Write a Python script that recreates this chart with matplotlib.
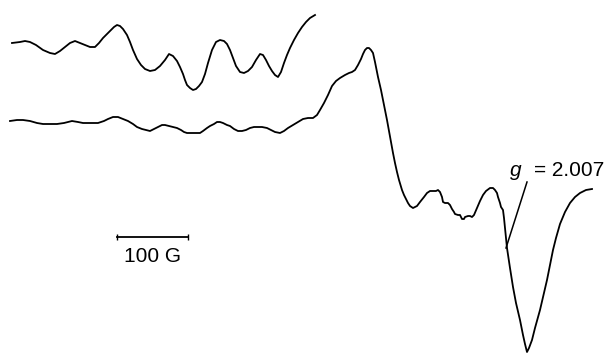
import matplotlib.pyplot as plt

# traces (x in field units, y in signal units, image-like frame)
upper_x = [12, 20, 25, 30, 36, 43, 50, 55, 60, 65,
           70, 75, 80, 85, 90, 95, 99, 103, 107, 110,
           114, 117, 120, 123, 127, 130, 133, 137, 141, 145,
           150, 155, 160, 165, 169, 173, 177, 180, 183, 185,
           187, 190, 193, 196, 199, 202, 205, 208, 212, 216,
           220, 224, 227, 230, 233, 236, 240, 244, 248, 252,
           256, 260, 263, 266, 269, 272, 275, 278, 281, 284,
           287, 290, 294, 298, 302, 306, 310, 315]
upper_y = [43, 42, 41, 42, 45, 50, 53, 54, 51, 47,
           43, 41, 43, 45, 47, 47, 43, 38, 34, 31,
           27, 25, 26, 29, 35, 42, 50, 59, 65, 69,
           71, 70, 66, 60, 54, 56, 61, 67, 74, 80,
           85, 88, 90, 89, 86, 82, 74, 63, 50, 42,
           40, 41, 44, 50, 58, 66, 72, 73, 71, 67,
           60, 54, 55, 60, 66, 71, 75, 77, 72, 63,
           55, 48, 40, 33, 27, 22, 18, 15]

lower_x = [10, 17, 23, 30, 37, 43, 50, 57, 64, 72,
           78, 83, 90, 98, 104, 108, 113, 118, 123, 128,
           133, 137, 142, 146, 150, 154, 158, 162, 165, 169,
           173, 177, 181, 184, 187, 190, 193, 196, 200, 203,
           207, 210, 214, 217, 220, 223, 227, 230, 234, 238,
           242, 246, 250, 254, 257, 262, 267, 271, 275, 280,
           284, 288, 293, 298, 303, 308, 313, 317, 320, 324,
           328, 332, 336, 340, 345, 349, 352, 355, 358, 361,
           363, 365, 367, 369, 371, 373, 375, 378, 381, 383,
           385, 387, 389, 391, 393, 395, 397, 399, 402, 404,
           406, 408, 410, 413, 417, 420, 424, 427, 430, 433,
           436, 438, 440, 442, 443, 445, 448, 450, 452, 454,
           455, 458, 460, 462, 464, 465, 468, 470, 472, 474,
           477, 480, 483, 486, 490, 493, 495, 497, 498, 500,
           501, 503, 504, 505, 506, 507, 510, 513, 516, 520,
           523, 525, 527, 529, 532, 535, 538, 540, 543, 547,
           550, 553, 556, 560, 565, 570, 575, 580, 586, 592]
lower_y = [121, 120, 120, 121, 123, 124, 124, 124, 123, 121,
           122, 123, 123, 123, 121, 119, 117, 117, 119, 121,
           124, 127, 129, 130, 131, 129, 127, 125, 125, 126,
           127, 128, 130, 132, 133, 133, 133, 133, 133, 131,
           128, 126, 124, 122, 122, 123, 125, 126, 129, 131,
           131, 130, 128, 127, 127, 127, 128, 130, 132, 133,
           131, 128, 125, 122, 119, 118, 118, 115, 110, 103,
           95, 86, 81, 78, 75, 73, 72, 70, 65, 59,
           54, 50, 48, 48, 50, 53, 62, 77, 90, 100,
           110, 120, 131, 142, 153, 163, 172, 180, 190, 195,
           199, 203, 206, 208, 206, 202, 197, 193, 191, 191,
           191, 190, 192, 197, 202, 203, 203, 205, 209, 212,
           214, 215, 215, 219, 219, 217, 216, 216, 217, 215,
           208, 201, 195, 191, 188, 188, 190, 193, 197, 203,
           207, 210, 218, 228, 238, 248, 268, 287, 303, 320,
           335, 344, 352, 348, 340, 328, 317, 310, 297, 280,
           265, 250, 238, 224, 212, 203, 197, 193, 190, 189]

# g-value marker and scale bar
g_point = (506, 248)
g_label = (527, 182)
bar_x = [117, 188]
bar_y = 237

fig = plt.figure(figsize=(6.07, 3.53), dpi=100)
ax = fig.add_axes([0, 0, 1, 1])
ax.plot(upper_x, upper_y, color='black', lw=1.3, solid_joinstyle='round')
ax.plot(lower_x, lower_y, color='black', lw=1.3, solid_joinstyle='round')

ax.plot([g_point[0], g_label[0]], [g_point[1], g_label[1]], color='black', lw=1.1)
ax.text(510, 176, 'g', fontsize=15, style='italic', family='Liberation Sans')
ax.text(534, 176, '= 2.007', fontsize=15, family='Liberation Sans')

ax.plot(bar_x, [bar_y, bar_y], color='black', lw=1.3, marker='|', markersize=5)
ax.text(sum(bar_x) / 2, 256, '100 G', fontsize=15, ha='center', va='center', family='Liberation Sans')

ax.set_xlim(0, 607)
ax.set_ylim(353, 0)
ax.axis('off')
fig.savefig('out.png', dpi=100)
